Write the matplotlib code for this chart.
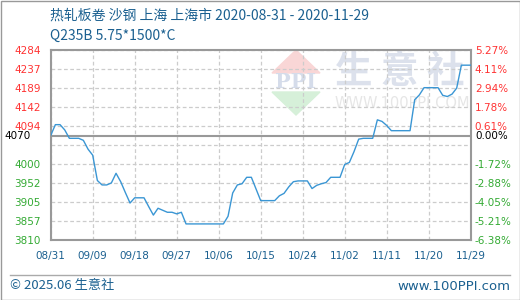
import matplotlib
matplotlib.use('Agg')
import matplotlib.pyplot as plt
from matplotlib.patches import Polygon, Rectangle
import numpy as np
import pandas as pd

# daily prices, 2020-08-31 .. 2020-11-29 (yuan/t)
prix = [
    4070, 4097, 4097, 4084, 4063, 4063, 4063, 4058, 4036, 4021,
    3958, 3947, 3947, 3952, 3976, 3955, 3928, 3902, 3915, 3915,
    3915, 3893, 3872, 3889, 3884, 3879, 3879, 3875, 3879, 3850,
    3850, 3850, 3850, 3850, 3850, 3850, 3850, 3850, 3869, 3927,
    3947, 3950, 3966, 3966, 3937, 3908, 3908, 3908, 3908, 3920,
    3926, 3942, 3955, 3957, 3957, 3957, 3938, 3946, 3950, 3953,
    3966, 3966, 3966, 3998, 4003, 4030, 4061, 4063, 4063, 4063,
    4109, 4105, 4095, 4082, 4082, 4082, 4082, 4082, 4159, 4171,
    4189, 4189, 4189, 4189, 4170, 4167, 4173, 4188, 4245, 4245,
    4245,
]
dates = pd.date_range('2020-08-31', '2020-11-29', freq='D')

base = 4070
y_min, y_max = 3810, 4284
labels_gauche = ['4284', '4237', '4189', '4142', '4094', '', '4000', '3952', '3905', '3857', '3810']
labels_droite = ['5.27%', '4.11%', '2.94%', '1.78%', '0.61%', '', '-1.72%', '-2.88%', '-4.05%', '-5.21%', '-6.38%']
x_labels = ['08/31', '09/09', '09/18', '09/27', '10/06', '10/15', '10/24', '11/02', '11/11', '11/20', '11/29']

titre1 = '热轧板卷 沙钢 上海 上海市 2020-08-31 - 2020-11-29'
titre2 = 'Q235B 5.75*1500*C'

ROUGE = '#ff3333'
VERT = '#33aa33'
BLEU = '#1b6090'
LIGNE = '#3a96d4'
cjk = ['Noto Sans CJK SC', 'DejaVu Sans']

fig = plt.figure(figsize=(5.2, 3.0), dpi=100)

# background layer in pixel coordinates
bg = fig.add_axes([0, 0, 1, 1], zorder=0)
bg.set_xlim(0, 520)
bg.set_ylim(300, 0)
bg.axis('off')
bg.add_patch(Rectangle((0.5, 0.5), 519, 299, fill=False, ec='#999999', lw=1))
bg.plot([10, 510], [275, 275], color='#aaaaaa', lw=1)
bg.text(50, 16, titre1, fontsize=10, color=BLEU, family=cjk, va='center')
bg.text(50, 36, titre2, fontsize=10, color=BLEU, family=cjk, va='center')
bg.text(10, 286, '© 2025.06 生意社', fontsize=9.5, color=BLEU, family=cjk, va='center')
bg.text(510, 286, 'www.100PPI.com', fontsize=9.5, color=BLEU, va='center', ha='right')

# watermark
bg.add_patch(Polygon([[296, 50], [272, 73], [320, 73]], color='#f9d6d6', zorder=1))
bg.add_patch(Polygon([[272, 92], [320, 92], [296, 115]], color='#d6f0d9', zorder=1))
bg.text(296, 82, 'PPI', fontsize=15, color='#d5dcea', ha='center', va='center',
        family='DejaVu Serif', fontweight='bold')
bg.text(400, 72, '生 意 社', fontsize=27, color='#dce1ec', ha='center', va='center',
        family=cjk, fontweight='bold')
bg.text(402, 104, 'WWW.100PPI.COM', fontsize=10.5, color='#e6e6e6', ha='center', va='center')

ax = fig.add_axes([50.7 / 520, 1 - 240 / 300, 420 / 520, (240 - 49.5) / 300], zorder=1)
ax.patch.set_alpha(0)

ax.plot(dates, prix, color=LIGNE, lw=1.0, zorder=3)
ax.axhline(base, color='#999999', lw=1.5, zorder=2)

yt = np.linspace(y_max, y_min, 11)
xt = pd.date_range(dates[0], dates[-1], freq='9D')

ax.set_ylim(y_min, y_max)
ax.set_xlim(dates[0], dates[-1])
ax.set_yticks(yt)
ax.set_yticklabels(labels_gauche)
ax.set_xticks(xt)
ax.set_xticklabels(x_labels)
ax.grid(True, ls=(0, (3, 2)), color='#cccccc', lw=0.9)

for s in ax.spines.values():
    s.set_color('#999999')
    s.set_linewidth(1.5)

ax.tick_params(axis='both', length=0, labelsize=7.5)
ax.tick_params(axis='x', colors=BLEU, pad=8)
ax.tick_params(axis='y', pad=26)
for lab in ax.get_yticklabels():
    lab.set_horizontalalignment('left')

ax2 = ax.twinx()
ax2.set_ylim(y_min, y_max)
ax2.set_yticks(yt)
ax2.set_yticklabels(labels_droite)
ax2.tick_params(axis='y', length=0, labelsize=7.5, pad=3)
for s in ax2.spines.values():
    s.set_visible(False)

for lab, v in zip(ax.get_yticklabels(), yt):
    lab.set_color(ROUGE if v > base else VERT)
for lab, v in zip(ax2.get_yticklabels(), yt):
    lab.set_color(ROUGE if v > base else VERT)

# base value label (black) on both sides
ax.text(-0.1095, base, '4070', transform=ax.get_yaxis_transform(), fontsize=7.5,
        va='center', ha='left', color='black')
ax.text(1.012, base, '0.00%', transform=ax.get_yaxis_transform(), fontsize=7.5,
        va='center', ha='left', color='black')

fig.savefig('out.png', dpi=100)
